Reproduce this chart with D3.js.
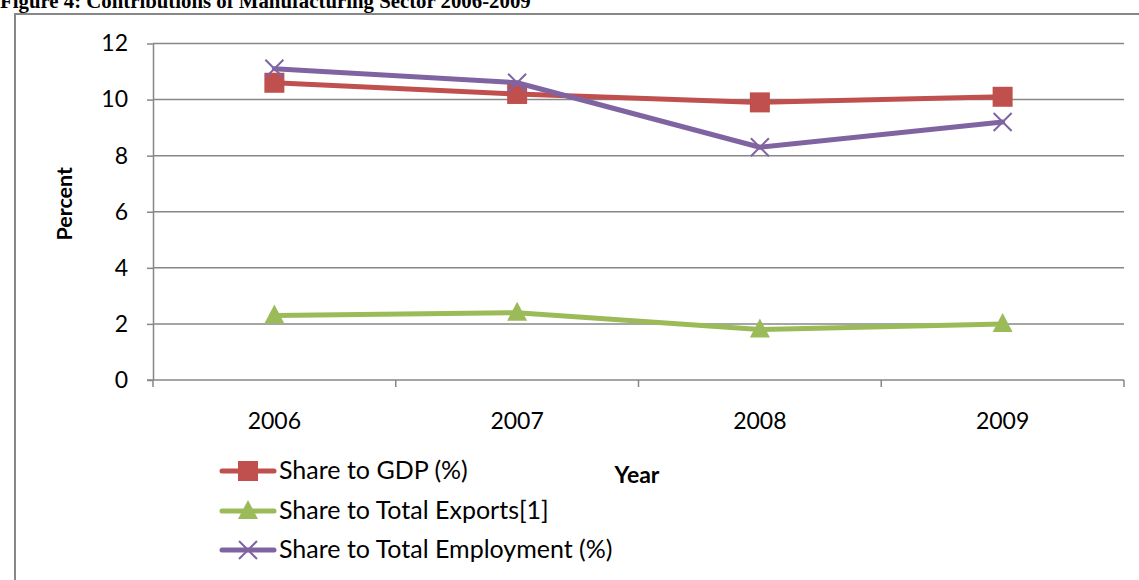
<!DOCTYPE html>
<html>
<head>
<meta charset="utf-8">
<script src="https://cdn.jsdelivr.net/npm/d3@7"></script>
<style>
  html, body { margin: 0; padding: 0; background: #fff; }
  svg { display: block; }
</style>
</head>
<body>
<svg id="chart" width="1139" height="580"></svg>
<script>
// Contributions of the manufacturing sector, 2006-2009 (percent)
const years = ["2006", "2007", "2008", "2009"];
const shareGDP = [10.6, 10.2, 9.9, 10.1];
const shareExports = [2.3, 2.4, 1.8, 2.0];
const shareEmployment = [11.1, 10.6, 8.3, 9.2];
const yTicks = [0, 2, 4, 6, 8, 10, 12];
const seriesNames = ["Share to GDP (%)", "Share to Total Exports[1]", "Share to Total Employment (%)"];

const series = [
  { name: seriesNames[0], values: shareGDP, color: "#C0504D", marker: "square" },
  { name: seriesNames[1], values: shareExports, color: "#9BBB59", marker: "triangle" },
  { name: seriesNames[2], values: shareEmployment, color: "#8064A2", marker: "cross" }
];

const svg = d3.select("#chart");
const font = "Lato, 'Open Sans', sans-serif";
const grey = "#878787";

const plot = { left: 153, right: 1124, top: 43.5, bottom: 380 };

const x = d3.scaleBand().domain(years).range([plot.left, plot.right]);
const y = d3.scaleLinear().domain([0, 12]).range([plot.bottom, plot.top]);

// Title, running up against the top edge of the page
svg.append("text")
  .attr("x", 0).attr("y", 8)
  .attr("font-family", "'Liberation Serif', 'Times New Roman', serif")
  .attr("font-weight", "bold").attr("font-size", 20.8)
  .text("Figure 4: Contributions of Manufacturing Sector 2006-2009");

// Chart frame
svg.append("path")
  .attr("d", `M15,585 V14 H1145`)
  .attr("fill", "none").attr("stroke", grey).attr("stroke-width", 2);

// Value axis with ticks
const yAxis = svg.append("g")
  .attr("transform", `translate(${plot.left},0)`)
  .call(d3.axisLeft(y).tickValues(yTicks).tickSize(6).tickPadding(19)
    .tickSizeOuter(0));
yAxis.select(".domain").attr("stroke", grey).attr("stroke-width", 1.5);
yAxis.selectAll(".tick line").attr("stroke", grey).attr("stroke-width", 1.5);
yAxis.selectAll(".tick text")
  .attr("font-family", font).attr("font-size", 23).attr("fill", "#000");

// Horizontal gridlines
svg.append("g").selectAll("line")
  .data(yTicks.filter(d => d > 0))
  .join("line")
  .attr("x1", plot.left).attr("x2", plot.right)
  .attr("y1", d => y(d)).attr("y2", d => y(d))
  .attr("stroke", grey).attr("stroke-width", 1.5);

// Category axis
const xAxis = svg.append("g")
  .attr("transform", `translate(0,${plot.bottom})`)
  .call(d3.axisBottom(x).tickSize(0).tickPadding(33));
xAxis.select(".domain").remove();
xAxis.selectAll(".tick text")
  .attr("font-family", font).attr("font-size", 23).attr("fill", "#000");

svg.append("line")
  .attr("x1", plot.left - 6).attr("x2", plot.right)
  .attr("y1", plot.bottom).attr("y2", plot.bottom)
  .attr("stroke", grey).attr("stroke-width", 1.5);

const boundaries = years.map(d => x(d)).concat([plot.right]);
svg.append("g").selectAll("line")
  .data(boundaries)
  .join("line")
  .attr("x1", d => d).attr("x2", d => d)
  .attr("y1", plot.bottom).attr("y2", plot.bottom + 7)
  .attr("stroke", grey).attr("stroke-width", 1.5);

// Axis titles
svg.append("text")
  .attr("transform", `translate(72,${(plot.top + plot.bottom) / 2 - 8}) rotate(-90)`)
  .attr("text-anchor", "middle")
  .attr("font-family", font).attr("font-weight", "bold").attr("font-size", 21.5)
  .text("Percent");

svg.append("text")
  .attr("x", 637).attr("y", 483)
  .attr("text-anchor", "middle")
  .attr("font-family", font).attr("font-weight", "bold").attr("font-size", 23)
  .text("Year");

// Markers
function drawMarker(g, type, color, cx, cy) {
  if (type === "square") {
    g.append("rect")
      .attr("x", cx - 10).attr("y", cy - 10)
      .attr("width", 20).attr("height", 20)
      .attr("fill", color);
  } else if (type === "triangle") {
    g.append("path")
      .attr("d", `M${cx},${cy - 11} L${cx + 10},${cy + 8} L${cx - 10},${cy + 8} Z`)
      .attr("fill", color);
  } else {
    g.append("path")
      .attr("d", `M${cx - 9},${cy - 9} L${cx + 9},${cy + 9} M${cx - 9},${cy + 9} L${cx + 9},${cy - 9}`)
      .attr("stroke", color).attr("stroke-width", 2).attr("fill", "none");
  }
}

const cx = d => x(d) + x.bandwidth() / 2;
const line = d3.line().x((d, i) => cx(years[i])).y(d => y(d));

series.forEach(s => {
  const g = svg.append("g");
  g.append("path")
    .attr("d", line(s.values))
    .attr("fill", "none").attr("stroke", s.color)
    .attr("stroke-width", 5).attr("stroke-linejoin", "round").attr("stroke-linecap", "round");
  s.values.forEach((v, i) => drawMarker(g, s.marker, s.color, cx(years[i]), y(v)));
});

// Legend
const legendRows = [471, 511, 550];
series.forEach((s, i) => {
  const g = svg.append("g");
  const ly = legendRows[i];
  g.append("line")
    .attr("x1", 222).attr("x2", 274).attr("y1", ly).attr("y2", ly)
    .attr("stroke", s.color).attr("stroke-width", 5).attr("stroke-linecap", "round");
  drawMarker(g, s.marker, s.color, 248, ly);
  g.append("text")
    .attr("x", 279).attr("y", ly + 8)
    .attr("font-family", font).attr("font-size", 25).attr("fill", "#000")
    .text(s.name);
});
</script>
</body>
</html>
